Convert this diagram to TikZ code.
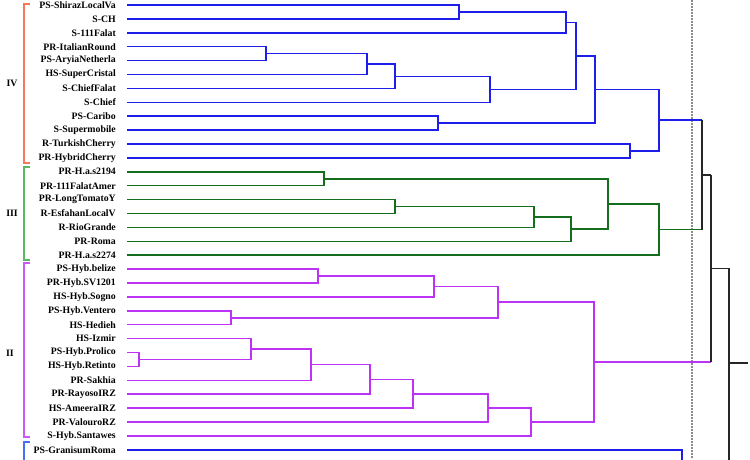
\documentclass[tikz,border=0pt]{standalone}
\usepackage{fontspec}
\setmainfont{Liberation Serif}
\usetikzlibrary{calc}
\definecolor{TreeBlue}{RGB}{30,30,235}
\definecolor{TreeGreen}{RGB}{20,110,30}
\definecolor{TreePurple}{RGB}{190,50,245}
\definecolor{BrkOrange}{RGB}{245,120,90}
\definecolor{BrkGreen}{RGB}{90,185,100}
\definecolor{BrkPurple}{RGB}{200,90,250}
\definecolor{BrkBlue}{RGB}{70,110,240}
\definecolor{CutGray}{RGB}{140,140,140}

\begin{document}
\begin{tikzpicture}[
  x=1pt,y=-1pt,
  leaf/.style={anchor=east,inner sep=0pt,
    font=\bfseries\fontsize{9.8}{11}\selectfont},
  grp/.style={inner sep=0pt,font=\bfseries\fontsize{9.8}{11}\selectfont},
  link/.style={line width=1.5pt},
  blu/.style={link,TreeBlue},
  grn/.style={link,TreeGreen},
  pur/.style={link,TreePurple},
  blk/.style={line width=1.6pt,black!85},
  brk/.style={line width=1.1pt},
  cut/.style={line width=1.3pt,CutGray,dash pattern=on 1.5pt off 1.5pt}
]
  \useasboundingbox (0,0) rectangle (750,459);
  \clip (0,0) rectangle (750,459);

  \foreach \lab [count=\i from 0] in {PS-ShirazLocalVa,S-CH,S-111Falat,
    PR-ItalianRound,PS-AryiaNetherla,HS-SuperCristal,S-ChiefFalat,S-Chief,
    PS-Caribo,S-Supermobile,R-TurkishCherry,PR-HybridCherry,
    PR-H.a.s2194,PR-111FalatAmer,PR-LongTomatoY,R-EsfahanLocalV,
    R-RioGrande,PR-Roma,PR-H.a.s2274,
    PS-Hyb.belize,PR-Hyb.SV1201,HS-Hyb.Sogno,PS-Hyb.Ventero,HS-Hedieh,
    HS-Izmir,PS-Hyb.Prolico,HS-Hyb.Retinto,PR-Sakhia,PR-RayosoIRZ,
    HS-AmeeraIRZ,PR-ValouroRZ,S-Hyb.Santawes,PS-GranisumRoma}
  {
    \node[leaf] (l\i) at (116,{5+13.9*\i}) {\lab};
    \coordinate (t\i) at (127,{5+13.9*\i});
  }

  \node[grp] (gIV) at (12,83) {IV};
  \node[grp] (gIII) at (12,213) {III};
  \node[grp] (gII) at (10,353) {II};
  \foreach \top/\bot/\col in {4/163/BrkOrange,167/260/BrkGreen,
    263/437/BrkPurple,442/470/BrkBlue}
    \draw[brk,\col] (30,\top) -| (24,\bot) -- (30,\bot);

  \foreach \n/\x/\y/\a/\b in {b1/459/11.95/t0/t1,b2/566/22.4/b1/t2,
    b3/266/53.65/t3/t4,b4/367/64.1/b3/t5,b5/395/76.25/b4/t6,
    b6/490/89.3/b5/t7,b7/576/55.85/b2/b6,b8/438/123.15/t8/t9,
    b9/595/89.5/b7/b8,b10/630/150.95/t10/t11,b11/659/120.2/b9/b10}
  {
    \coordinate (\n) at (\x,\y);
    \draw[blu] (\a) -| (\n) |- (\b);
  }

  \foreach \n/\x/\y/\a/\b in {g1/324/178.75/t12/t13,g2/395/206.55/t14/t15,
    g3/534/217/g2/t16,g4/571/229.15/g3/t17,g5/608/203.95/g1/g4,
    g6/659/229.6/g5/t18}
  {
    \coordinate (\n) at (\x,\y);
    \draw[grn] (\a) -| (\n) |- (\b);
  }

  \foreach \n/\x/\y/\a/\b in {p1/318/276.05/t19/t20,p2/434/286.5/p1/t21,
    p3/231/317.75/t22/t23,p4/498/302.1/p2/p3,p5/139/359.45/t25/t26,
    p6/251/349/t24/p5,p7/311/364.65/p6/t27,p8/370/379.4/p7/t28,
    p9/413/393.75/p8/t29,p10/488/407.9/p9/t30,p11/531/421.9/p10/t31,
    p12/594/362/p4/p11}
  {
    \coordinate (\n) at (\x,\y);
    \draw[pur] (\a) -| (\n) |- (\b);
  }

  \coordinate (r1) at (682,470);
  \draw[blu] (t32) -| (r1);

  \coordinate (cutT) at (692,0);
  \coordinate (cutB) at (692,459);
  \draw[cut] (cutT) -- (cutB);

  \coordinate (k1) at (702,174.9);
  \coordinate (k2) at (711,268.45);
  \coordinate (k3) at (729,363);
  \coordinate (k3lo) at (729,470);
  \coordinate (root) at (748,363);
  \draw[blu] (b11) -- (b11 -| k1);
  \draw[grn] (g6) -- (g6 -| k1);
  \draw[pur] (p12) -- (p12 -| k2);
  \draw[blk] (b11 -| k1) -- (g6 -| k1);
  \draw[blk] (k1) -- (k1 -| k2);
  \draw[blk] (k1 -| k2) -- (p12 -| k2);
  \draw[blk] (k2) -| (k3) -- (k3lo);
  \draw[blk] (k3) -- (root);
\end{tikzpicture}
\end{document}
